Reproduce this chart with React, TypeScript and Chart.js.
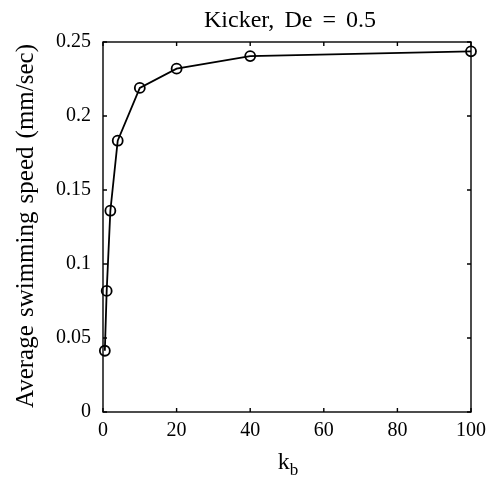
import React, { useEffect, useRef } from "react";
import { Chart, registerables } from "chart.js";

Chart.register(...registerables);

const kb = [0.5, 1, 2, 4, 10, 20, 40, 100];
const speed = [0.0414, 0.0818, 0.136, 0.1833, 0.219, 0.232, 0.2405, 0.2437];
const xTicks = [0, 20, 40, 60, 80, 100];
const yTicks = [0, 0.05, 0.1, 0.15, 0.2, 0.25];
const titleText = "Kicker, De = 0.5";
const yLabel = "Average swimming speed (mm/sec)";
const xLabelMain = "k";
const xLabelSub = "b";

const FONT = '"Liberation Serif", "Times New Roman", serif';

function fitText(ctx: any, text: string, target: number) {
  const w = ctx.measureText(text).width;
  const spaces = (text.match(/ /g) || []).length;
  return spaces > 0 ? Math.max(0, (target - w) / spaces) : 0;
}

function drawSpaced(ctx: any, text: string, cx: number, cy: number, extra: number) {
  const words = text.split(" ");
  const sp = ctx.measureText(" ").width + extra;
  const widths = words.map((w) => ctx.measureText(w).width);
  const total = widths.reduce((a, b) => a + b, 0) + sp * (words.length - 1);
  let x = cx - total / 2;
  ctx.textAlign = "left";
  words.forEach((w, i) => {
    ctx.fillText(w, x, cy);
    x += widths[i] + sp;
  });
}

const framePlugin = {
  id: "frame",
  beforeDatasetsDraw(chart: any) {
    const { ctx, chartArea, scales } = chart;
    const { left, right, top, bottom } = chartArea;
    const x = scales.x, y = scales.y;
    ctx.save();
    ctx.strokeStyle = "#000";
    ctx.lineWidth = 1.4;
    ctx.strokeRect(left, top, right - left, bottom - top);
    ctx.beginPath();
    const tl = 4;
    for (const v of xTicks) {
      const px = x.getPixelForValue(v);
      ctx.moveTo(px, bottom);
      ctx.lineTo(px, bottom - tl);
      ctx.moveTo(px, top);
      ctx.lineTo(px, top + tl);
    }
    for (const v of yTicks) {
      const py = y.getPixelForValue(v);
      ctx.moveTo(left, py);
      ctx.lineTo(left + tl, py);
      ctx.moveTo(right, py);
      ctx.lineTo(right - tl, py);
    }
    ctx.stroke();
    ctx.restore();
  },
  afterDraw(chart: any) {
    const { ctx, chartArea } = chart;
    const { left, right } = chartArea;
    ctx.save();
    ctx.fillStyle = "#000";
    ctx.textBaseline = "alphabetic";

    // title
    ctx.font = `24px ${FONT}`;
    const tExtra = fitText(ctx, titleText, 172);
    drawSpaced(ctx, titleText, (left + right) / 2 + 3, 27, tExtra);

    // y label
    ctx.save();
    ctx.translate(33, 226);
    ctx.rotate(-Math.PI / 2);
    ctx.font = `25px ${FONT}`;
    const yExtra = fitText(ctx, yLabel, 364);
    drawSpaced(ctx, yLabel, 0, 0, yExtra);
    ctx.restore();

    // x label k_b
    const cx = (left + right) / 2 + 1;
    ctx.font = `24px ${FONT}`;
    const wk = ctx.measureText(xLabelMain).width;
    ctx.font = `17px ${FONT}`;
    const wb = ctx.measureText(xLabelSub).width;
    const start = cx - (wk + wb) / 2;
    ctx.textAlign = "left";
    ctx.font = `24px ${FONT}`;
    ctx.fillText(xLabelMain, start, 469);
    ctx.font = `17px ${FONT}`;
    ctx.fillText(xLabelSub, start + wk, 475);
    ctx.restore();
  },
};

export default function App() {
  const ref = useRef<HTMLCanvasElement>(null);
  useEffect(() => {
    if (!ref.current) return;
    const chart = new Chart(ref.current, {
      type: "line",
      data: {
        datasets: [
          {
            data: kb.map((k, i) => ({ x: k, y: speed[i] })),
            borderColor: "#000",
            borderWidth: 1.8,
            pointRadius: 5,
            pointBorderWidth: 1.8,
            pointBorderColor: "#000",
            pointBackgroundColor: "rgba(255,255,255,0)",
            tension: 0,
            clip: false as any,
          },
        ],
      },
      options: {
        responsive: false,
        animation: false,
        devicePixelRatio: 1,
        layout: { padding: { left: 0, right: 20, top: 42, bottom: 0 } },
        plugins: { legend: { display: false }, tooltip: { enabled: false }, title: { display: false } },
        scales: {
          x: {
            type: "linear",
            min: 0,
            max: 100,
            afterFit: (s: any) => { s.height = 66; },
            afterBuildTicks: (s: any) => { s.ticks = xTicks.map((v) => ({ value: v })); },
            grid: { display: false, drawTicks: false },
            border: { display: false },
            ticks: {
              color: "#000",
              font: { family: FONT, size: 20 },
              padding: 7,
              maxRotation: 0,
              callback: (v: any) => String(v),
            },
          },
          y: {
            type: "linear",
            min: 0,
            max: 0.25,
            afterFit: (s: any) => { s.width = 103; },
            afterBuildTicks: (s: any) => { s.ticks = yTicks.map((v) => ({ value: v })); },
            grid: { display: false, drawTicks: false },
            border: { display: false },
            ticks: {
              color: "#000",
              font: { family: FONT, size: 20 },
              padding: 12,
              callback: (v: any) => String(Number(Number(v).toFixed(2))),
            },
          },
        },
      },
      plugins: [framePlugin],
    });
    return () => chart.destroy();
  }, []);
  return (
    <div style={{ position: "fixed", left: 0, top: 0, width: 493, height: 478, background: "#fff" }}>
      <canvas ref={ref} width={493} height={478} style={{ display: "block" }} />
    </div>
  );
}
